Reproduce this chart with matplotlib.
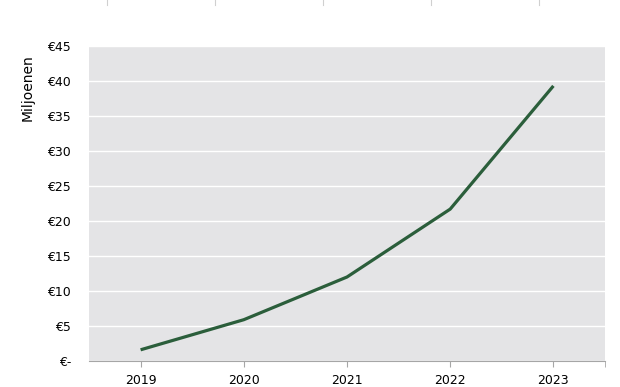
import matplotlib
matplotlib.use("Agg")
import matplotlib.pyplot as plt
from matplotlib.lines import Line2D

# data (millions of euro)
years = ['2019', '2020', '2021', '2022', '2023']
values = [1.6, 5.9, 12.0, 21.7, 39.3]
yticks = [0, 5, 10, 15, 20, 25, 30, 35, 40, 45]

plt.rcParams['font.family'] = ['DejaVu Sans']

fig = plt.figure(figsize=(6.2, 3.87), dpi=100)
ax = fig.add_axes([89/620, 1 - 361/387, (605-89)/620, (361-46)/387])
ax.set_facecolor('#e4e4e6')

x = list(range(len(years)))
ax.plot(x, values, color='#2b5e3b', linewidth=2.3, solid_capstyle='butt')

ax.set_xlim(-0.5, len(years) - 0.5)
ax.set_ylim(0, 45)
ax.set_yticks(yticks)
ax.set_yticklabels(['€-' if v == 0 else f'€{v}' for v in yticks], fontsize=9)
ax.set_xticks(x)
ax.set_xticklabels(years, fontsize=9)
ax.set_xticks([len(years) - 0.5], minor=True)

ax.grid(axis='y', color='white', linewidth=1)
ax.set_axisbelow(True)
for s in ['top', 'right', 'left']:
    ax.spines[s].set_visible(False)
ax.spines['bottom'].set_color('#a6a6a6')
ax.tick_params(axis='y', length=0, pad=13)
ax.tick_params(axis='x', which='both', length=4, color='#a6a6a6', pad=5)

fig.text(28/620, 1 - 88/387, 'Miljoenen', rotation=90, fontsize=10,
         ha='center', va='center')

# faint tick marks along the top edge of the picture
for px in [107, 215, 323, 431, 539]:
    fig.add_artist(Line2D([px/620, px/620], [1, 1 - 5/387],
                          color='#d0d0d0', linewidth=0.8))

fig.savefig('out.png', dpi=100)
